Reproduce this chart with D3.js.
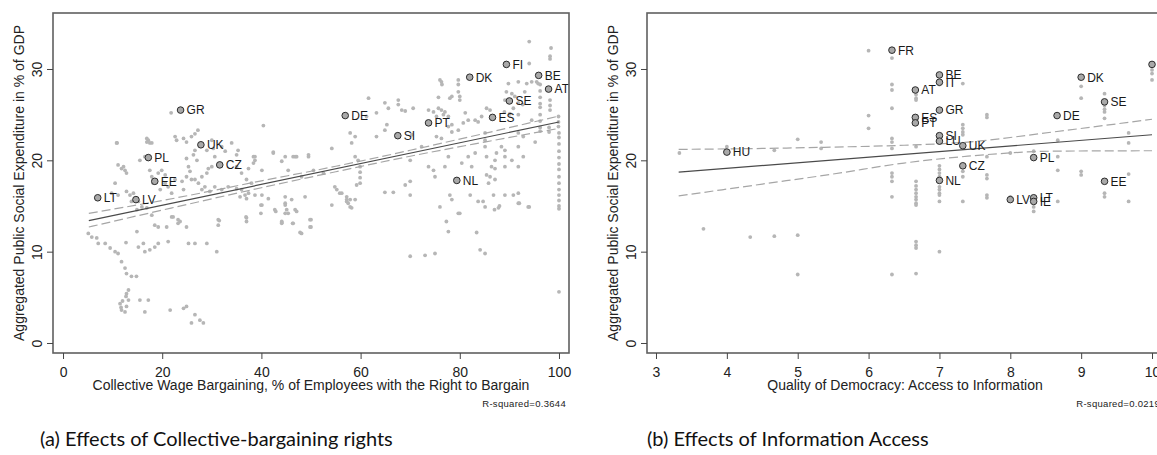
<!DOCTYPE html>
<html>
<head>
<meta charset="utf-8">
<script src="https://cdn.jsdelivr.net/npm/d3@7"></script>
<style>
  body { margin: 0; background: #fff; }
  svg { display: block; }
</style>
</head>
<body>
<svg id="chart" width="1157" height="455"></svg>
<script>
// ---- data ----
const yTicks = [0, 10, 20, 30];
const leftTicksX = [0, 20, 40, 60, 80, 100];
const rightTicksX = [3, 4, 5, 6, 7, 8, 9, 10];

// panel (a): collective bargaining coverage vs social expenditure
const leftLabeled = [
    {c: "LT", x: 7.0, y: 15.9}, {c: "LV", x: 14.7, y: 15.7}, {c: "PL", x: 17.2, y: 20.3},
    {c: "EE", x: 18.5, y: 17.7}, {c: "GR", x: 23.7, y: 25.5}, {c: "UK", x: 27.8, y: 21.7},
    {c: "CZ", x: 31.6, y: 19.5}, {c: "DE", x: 56.9, y: 24.9}, {c: "SI", x: 67.5, y: 22.7},
    {c: "PT", x: 73.7, y: 24.1}, {c: "DK", x: 82.0, y: 29.1}, {c: "FI", x: 89.4, y: 30.5},
    {c: "BE", x: 95.9, y: 29.3}, {c: "AT", x: 97.9, y: 27.8}, {c: "SE", x: 90.0, y: 26.5},
    {c: "ES", x: 86.6, y: 24.7}, {c: "NL", x: 79.4, y: 17.8}
];
const leftPoints = [
    [21.8,25.2],[40.4,23.8],[27.2,23.3],[26.6,22.9],[22.6,22.6],[22.9,22.2],[24.3,22.4],[24.9,22.0],[25.9,22.6],
    [17.2,22.2],[17.5,21.9],[16.9,22.0],[10.9,21.9],[30.0,22.2],[30.3,21.3],[29.0,21.1],[30.6,20.4],[32.0,21.5],
    [34.0,21.9],[35.3,21.1],[35.0,20.6],[32.7,21.0],[26.6,21.1],[26.3,20.6],[24.9,20.2],[27.0,20.0],[25.3,19.3],
    [25.6,18.8],[24.9,18.2],[25.9,17.9],[28.0,18.2],[29.0,18.6],[29.3,19.1],[30.0,19.3],[11.1,19.5],[11.8,19.1],
    [12.5,18.9],[12.8,18.6],[12.2,19.3],[15.5,20.0],[16.5,20.4],[17.5,18.9],[17.9,18.2],[18.2,17.5],[19.9,18.9],
    [20.6,18.4],[19.6,16.8],[10.5,17.5],[9.8,16.4],[11.1,16.2],[12.8,16.6],[13.5,16.2],[14.2,16.4],[14.5,15.8],
    [13.8,15.5],[15.2,15.5],[15.9,14.9],[14.9,14.6],[16.9,14.8],[17.9,14.0],[19.2,18.6],[20.6,17.5],[21.2,17.1],
    [22.6,17.9],[24.0,17.7],[21.9,16.4],[24.3,16.8],[26.6,17.9],[27.3,17.5],[28.6,17.1],[28.0,16.8],[29.6,16.6],
    [30.6,17.1],[32.0,16.8],[33.3,17.1],[35.0,16.9],[36.0,16.8],[36.7,16.2],[37.4,16.4],[35.7,16.0],[37.0,15.8],
    [38.7,16.2],[40.1,16.2],[41.4,15.8],[38.0,17.5],[37.0,17.9],[36.0,18.6],[35.0,19.3],[37.4,19.1],[38.7,20.0],
    [38.4,20.4],[40.1,18.9],[42.4,20.8],[44.1,19.9],[46.8,20.4],[49.5,20.6],[45.4,18.9],[48.1,18.2],[44.8,16.0],
    [44.8,15.3],[45.1,14.6],[45.4,14.2],[46.1,15.7],[46.8,14.6],[48.8,16.0],[42.7,14.6],[40.1,15.1],[44.1,13.1],
    [46.4,13.1],[48.1,12.0],[37.0,13.7],[37.0,13.3],[31.3,13.5],[31.3,12.9],[24.9,12.7],
    [5.1,12.0],[5.8,11.6],[6.8,11.5],[7.1,10.9],[8.5,10.9],[9.5,10.4],[10.5,10.0],[11.1,9.8],[11.8,8.9],
    [12.5,8.2],[12.8,7.6],[13.8,7.3],[14.8,7.3],[14.9,12.2],[16.2,10.9],[15.2,10.5],[16.5,10.0],[17.5,10.2],
    [18.5,10.5],[19.2,10.9],[21.2,11.1],[25.3,10.9],[26.6,10.9],[29.0,10.9],[31.0,10.0],[23.2,13.1],[21.9,13.8],
    [18.5,12.9],[19.2,12.7],[20.9,12.7],[12.7,11.0],
    [11.5,4.3],[11.8,3.6],[12.5,3.4],[12.8,4.0],[13.2,4.7],[12.8,5.4],[13.2,5.8],[12.7,5.1],[15.5,4.7],[17.2,4.7],
    [16.5,3.4],[21.6,3.6],[24.3,3.8],[24.9,4.0],[26.6,3.1],[27.6,2.5],[25.9,2.2],[28.3,2.2],[12.0,4.6],[11.7,3.9],
    [10.8,21.9],[16.9,22.4],[17.9,21.9],[42.4,20.9],[46.4,20.4],[38.7,20.4],[38.4,19.7],[23.2,13.5],[23.6,13.3],
    [22.2,13.8],[31.5,13.4],[36.9,13.8],[39.9,15.1],[39.9,14.2],[42.9,14.4],[44.1,13.3],[44.8,15.1],[46.3,13.1],
    [47.1,14.4],
    [94.0,33.0],[98.4,32.3],[98.2,31.4],[98.2,31.1],[94.0,30.6],[95.5,28.6],[95.8,28.4],[94.5,28.6],[93.5,28.4],
    [91.8,28.6],[98.2,26.6],[98.2,26.0],[98.2,25.5],[96.2,28.3],[96.2,27.6],[96.2,26.9],[96.2,26.2],[96.2,25.8],
    [96.2,25.0],[96.2,24.3],[96.2,23.6],[96.2,23.2],[99.9,24.8],[99.9,24.2],[99.9,23.7],
    [100,23.0],[100,22.5],[100,21.8],[100,21.0],[100,20.3],[100,19.6],[100,19.0],[100,18.2],[100,17.5],[100,16.8],
    [100,16.2],[100,15.6],[100,15.0],[100,14.7],[100,5.6],[98,23.6],[98,23.1],
    [89.8,28.4],[89.4,27.5],[90.5,27.3],[91.1,27.0],[89.1,26.6],[91.8,26.3],[92.7,26.1],[93.1,27.5],[90.8,25.7],
    [89.0,25.3],[90.1,25.1],[91.8,25.0],[94.5,24.4],[76.0,28.8],[76.4,28.3],[79.7,28.8],[79.7,28.3],[79.7,27.5],
    [78.4,27.0],[78.0,26.8],[75.7,26.9],[76.3,28.6],[80.0,27.0],[80.0,26.6],
    [61.6,26.8],[64.9,26.3],[67.6,26.6],[67.6,26.1],[68.3,25.5],[70.6,25.7],[65.6,25.7],[69.0,25.4],[63.2,25.2],
    [61.2,24.8],[65.3,23.9],[73.7,25.5],[74.7,25.3],[75.7,25.7],[76.3,25.5],[77.0,25.3],[76.7,25.0],[77.7,24.8],
    [75.3,24.8],[78.4,23.9],[79.7,23.3],[80.7,24.1],[81.7,24.4],[83.1,24.4],[83.7,24.2],[84.4,24.8],[85.4,25.7],
    [86.1,25.5],[81.1,25.2],
    [85.1,23.0],[85.1,22.2],[85.1,21.5],[85.4,20.4],[87.1,20.0],[89.1,19.3],[90.5,20.0],[91.8,19.3],[92.8,20.4],
    [91.8,21.5],[95.2,22.0],[83.1,20.8],[81.7,20.4],[80.4,19.7],[82.4,19.3],[77.7,20.4],[77.0,19.3],[74.7,18.9],
    [73.7,19.3],[72.3,21.5],[70.3,22.8],[70.0,20.0],[64.9,23.3],[63.2,22.6],[58.9,22.6],[57.9,23.0],[58.2,21.9],
    [58.9,20.4],[59.5,20.0],[59.9,19.3],[59.9,18.7],[59.9,18.1],[59.9,17.5],[54.2,21.3],[49.5,20.4],[54.8,17.1],
    [55.8,16.4],[57.2,15.7],[57.5,15.3],[58.9,15.7],[59.2,17.3],[54.2,15.1],[64.9,16.5],[66.6,16.5],[70.0,17.7],
    [70.0,16.2],[69.0,17.3],[75.0,18.2],[76.0,14.9],[78.0,16.2],[78.4,15.7],[79.7,14.2],[82.1,16.2],[83.7,15.5],
    [84.7,15.5],[85.1,14.9],[85.4,18.4],[86.1,18.2],[85.8,17.5],[87.1,17.9],[86.8,16.2],[87.8,14.8],[89.1,16.2],
    [90.8,16.2],[91.8,16.4],[91.8,15.3],[93.8,14.9],[86.4,19.3],[87.1,19.1],[50.0,13.5],[50.0,12.7],[77.3,13.3],
    [77.7,12.2],[83.4,12.1],[84.1,10.2],[85.1,9.8],[70.0,9.5],[73.0,9.6],[75.0,9.8],[80.0,14.2],
    [77.7,23.7],[78.4,23.1],[76.3,22.4],[75.3,22.6],[88.4,21.5],[87.4,20.8],[89.1,20.4],[89.1,21.1],[91.8,23.0],
    [92.8,22.6],[87.0,14.6],[88.0,15.0],[92.0,15.3],[94.0,14.9],[57.2,15.5],[57.9,14.9],[44.8,14.2],[47.8,12.1],
    [49.8,13.5],[49.8,12.7],[44.1,13.2],[44.8,20.4],[47.1,20.4],[50.5,18.9],[52.5,18.6],[55.2,16.8],[56.2,16.4],
    [57.2,16.0],[58.2,14.8],[57.9,15.7]
];
const leftFit = [[5.2, 13.4], [100, 24.2]];
// x, lower, upper of the confidence band
const leftCI = [[5.2,12.7,14.2],[20,14.55,15.6],[40,17.0,17.75],[55,18.75,19.35],[70,20.45,21.1],[85,22.0,22.95],[100,23.5,24.85]];

// panel (b): access to information vs social expenditure
const rightLabeled = [
    {c: "FR", x: 6.33, y: 32.06}, {c: "BE", x: 7.0, y: 29.35}, {c: "IT", x: 7.0, y: 28.55},
    {c: "AT", x: 6.66, y: 27.7}, {c: "GR", x: 7.0, y: 25.5}, {c: "ES", x: 6.66, y: 24.7},
    {c: "PT", x: 6.66, y: 24.1}, {c: "SI", x: 7.0, y: 22.7}, {c: "LU", x: 7.0, y: 22.1},
    {c: "UK", x: 7.33, y: 21.6}, {c: "CZ", x: 7.33, y: 19.4}, {c: "NL", x: 7.0, y: 17.8},
    {c: "HU", x: 4.0, y: 20.9}, {c: "PL", x: 8.33, y: 20.3}, {c: "LV", x: 8.0, y: 15.7},
    {c: "LT", x: 8.33, y: 15.9}, {c: "IE", x: 8.33, y: 15.5}, {c: "DE", x: 8.66, y: 24.9},
    {c: "DK", x: 9.0, y: 29.1}, {c: "SE", x: 9.33, y: 26.4}, {c: "EE", x: 9.33, y: 17.7},
    {c: "FI", x: 10.0, y: 30.5}
];
const rightPoints = [
    [3.33,20.8],[3.67,12.5],[4.0,21.5],[4.33,11.6],[4.67,21.1],[4.67,11.7],[5.0,22.3],[5.0,11.8],[5.0,7.5],
    [5.33,22.0],[5.33,21.3],[6.0,32.0],[6.0,24.9],[6.0,23.5],
    [6.33,31.2],[6.33,28.3],[6.33,27.7],[6.33,25.7],[6.33,22.4],[6.33,22.0],[6.33,21.3],[6.33,18.6],[6.33,18.2],
    [6.33,17.7],[6.33,16.0],[6.33,7.5],
    [6.67,27.2],[6.67,26.8],[6.67,26.6],[6.67,21.5],[6.67,17.7],[6.67,17.2],[6.67,16.8],[6.67,16.4],[6.67,16.0],
    [6.67,15.7],[6.67,15.3],[6.67,15.1],[6.67,11.1],[6.67,10.7],[6.67,10.4],[6.67,7.6],
    [7.0,28.3],[7.0,19.4],[7.0,19.0],[7.0,18.6],[7.0,18.2],[7.0,17.1],[7.0,16.8],[7.0,16.4],[7.0,16.2],[7.0,15.5],[7.0,10.0],
    [7.33,28.4],[7.33,23.9],[7.33,23.5],[7.33,23.1],[7.33,22.8],[7.33,18.8],[7.33,18.2],[7.33,15.5],
    [7.67,25.0],[7.67,24.7],[7.67,20.4],[7.67,18.4],[7.67,18.0],[7.67,16.2],[7.67,15.9],
    [8.0,20.8],[8.0,16.0],[8.33,21.0],[8.33,14.9],[8.33,14.4],
    [8.67,22.2],[8.67,20.4],[8.67,18.9],[8.67,15.5],
    [9.0,28.1],[9.0,26.8],[9.0,18.8],[9.0,18.4],
    [9.33,27.3],[9.33,26.0],[9.33,25.6],[9.33,25.3],[9.33,24.6],[9.33,16.4],[9.33,16.0],
    [9.67,23.0],[9.67,21.9],[9.67,18.5],[9.67,15.5],
    [10.0,29.9],[10.0,29.5],[10.0,28.8]
];
const rightFit = [[3.32, 18.7], [10, 22.8]];
const rightCI = [[3.32,16.1,21.2],[4.5,17.4,21.3],[5.5,18.5,21.45],[6.5,19.7,21.65],[7.4,20.45,22.0],[8.6,21.0,23.1],[10,21.05,24.5]];

const svg = d3.select("#chart");
svg.append("rect").attr("width", 1157).attr("height", 455).attr("fill", "#fff");

const yTitle = "Aggregated Public Social Expenditure in % of GDP";
const FONT = "'Liberation Sans', Arial, sans-serif";

function drawPanel(p) {
    const x = d3.scaleLinear().domain(p.xDomain).range([p.left, p.left + 516]);
    const y = d3.scaleLinear().domain([-1.095, 36.13]).range([353, 13]);
    const g = svg.append("g").attr("font-family", FONT);

    // gray cloud
    g.append("g").selectAll("circle")
        .data(p.points)
        .enter().append("circle")
        .attr("cx", d => x(d[0]))
        .attr("cy", d => y(d[1]))
        .attr("r", 1.9)
        .attr("fill", "#b6b6b6");

    // confidence band + fit
    const lo = d3.line().x(d => x(d[0])).y(d => y(d[1])).curve(d3.curveMonotoneX);
    const hi = d3.line().x(d => x(d[0])).y(d => y(d[2])).curve(d3.curveMonotoneX);
    [lo, hi].forEach(function (ln) {
        g.append("path")
            .attr("d", ln(p.ci))
            .attr("fill", "none")
            .attr("stroke", "#a6a6a6")
            .attr("stroke-width", 1.2)
            .attr("stroke-dasharray", "9,4");
    });
    g.append("path")
        .attr("d", d3.line().x(d => x(d[0])).y(d => y(d[1]))(p.fit))
        .attr("fill", "none")
        .attr("stroke", "#4a4a4a")
        .attr("stroke-width", 1.2);

    // country markers
    const lab = g.append("g").selectAll("g")
        .data(p.labeled)
        .enter().append("g")
        .attr("transform", d => "translate(" + x(d.x) + "," + y(d.y) + ")");
    lab.append("circle")
        .attr("r", 3.3)
        .attr("fill", "#a9a9a9")
        .attr("stroke", "#2b2b2b")
        .attr("stroke-width", 1);
    lab.append("text")
        .attr("x", 6)
        .attr("dy", "0.36em")
        .attr("font-size", 12)
        .attr("fill", "#1a1a1a")
        .text(d => d.c);

    // frame
    g.append("rect")
        .attr("x", p.left).attr("y", 13)
        .attr("width", 516).attr("height", 340)
        .attr("fill", "none")
        .attr("stroke", "#606060")
        .attr("stroke-width", 1.6);

    // axes
    const ya = g.append("g")
        .attr("transform", "translate(" + p.left + ",0)")
        .call(d3.axisLeft(y).tickValues(yTicks).tickSize(6).tickFormat(d3.format("d")));
    ya.select(".domain").remove();
    ya.selectAll(".tick line").attr("stroke", "#444");
    ya.selectAll(".tick text")
        .attr("transform", "rotate(-90)")
        .attr("x", 0).attr("y", -11).attr("dy", 0)
        .attr("text-anchor", "middle")
        .attr("font-size", 14)
        .attr("font-family", FONT)
        .attr("fill", "#222");

    const xa = g.append("g")
        .attr("transform", "translate(0,353)")
        .call(d3.axisBottom(x).tickValues(p.xTicks).tickSize(6).tickPadding(8).tickFormat(d3.format("d")));
    xa.select(".domain").remove();
    xa.selectAll(".tick line").attr("stroke", "#444");
    xa.selectAll(".tick text")
        .attr("font-size", 14)
        .attr("font-family", FONT)
        .attr("fill", "#222");

    // titles
    g.append("text")
        .attr("transform", "translate(" + (p.left - 29) + ",183) rotate(-90)")
        .attr("text-anchor", "middle")
        .attr("font-size", 14)
        .attr("fill", "#222")
        .text(yTitle);
    g.append("text")
        .attr("x", p.left + 258).attr("y", 390)
        .attr("text-anchor", "middle")
        .attr("font-size", 14)
        .attr("fill", "#222")
        .text(p.xTitle);
    g.append("text")
        .attr("x", p.left + 513).attr("y", 407)
        .attr("text-anchor", "end")
        .attr("font-size", 9.5)
        .attr("letter-spacing", "0.3px")
        .attr("fill", "#222")
        .text(p.r2);

    svg.append("text")
        .attr("x", p.capX).attr("y", 446)
        .attr("font-family", "Lato, 'Open Sans', sans-serif")
        .attr("font-size", 20)
        .attr("fill", "#111")
        .text(p.caption);
}

drawPanel({
    left: 53, xDomain: [-2.02, 102.02], xTicks: leftTicksX,
    points: leftPoints, labeled: leftLabeled, fit: leftFit, ci: leftCI,
    xTitle: "Collective Wage Bargaining, % of Employees with the Right to Bargain",
    r2: "R-squared=0.3644",
    caption: "(a) Effects of Collective-bargaining rights", capX: 40
});
drawPanel({
    left: 647, xDomain: [2.873, 10.155], xTicks: rightTicksX,
    points: rightPoints, labeled: rightLabeled, fit: rightFit, ci: rightCI,
    xTitle: "Quality of Democracy: Access to Information",
    r2: "R-squared=0.0219",
    caption: "(b) Effects of Information Access", capX: 647
});
</script>
</body>
</html>
